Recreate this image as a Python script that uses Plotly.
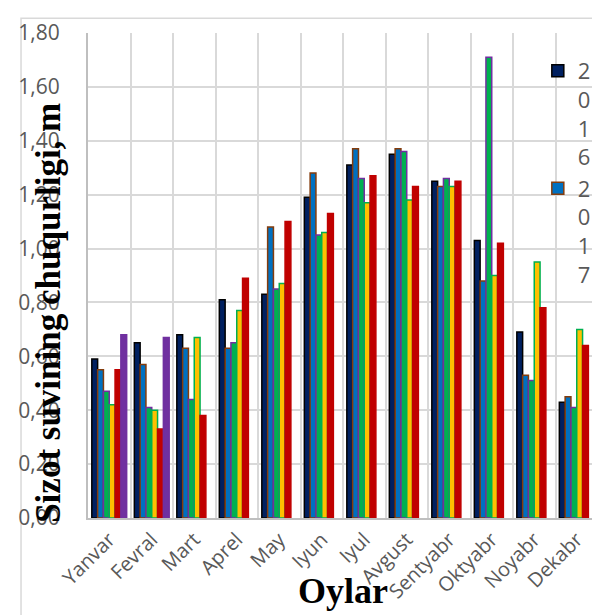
import plotly.graph_objects as go

months = ["Yanvar", "Fevral", "Mart", "Aprel", "May", "Iyun", "Iyul", "Avgust",
          "Sentyabr", "Oktyabr", "Noyabr", "Dekabr"]

s2016 = [0.59, 0.65, 0.68, 0.81, 0.83, 1.19, 1.31, 1.35, 1.25, 1.03, 0.69, 0.43]
s2017 = [0.55, 0.57, 0.63, 0.63, 1.08, 1.28, 1.37, 1.37, 1.23, 0.88, 0.53, 0.45]
s2018 = [0.47, 0.41, 0.44, 0.65, 0.85, 1.05, 1.26, 1.36, 1.26, 1.71, 0.51, 0.41]
s2019 = [0.42, 0.40, 0.67, 0.77, 0.87, 1.06, 1.17, 1.18, 1.23, 0.90, 0.95, 0.70]
s2020 = [0.55, 0.33, 0.38, 0.89, 1.10, 1.13, 1.27, 1.23, 1.25, 1.02, 0.78, 0.64]
s2021 = [0.68, 0.67, None, None, None, None, None, None, None, None, None, None]

series = [
    ("2016", s2016, "#002060", "#000000", True),
    ("2017", s2017, "#0070C0", "#843C0C", True),
    ("2018", s2018, "#00B050", "#7030A0", False),
    ("2019", s2019, "#FFC000", "#00B050", False),
    ("2020", s2020, "#C00000", "#C00000", False),
    ("2021", s2021, "#7030A0", "#7030A0", False),
]

fig = go.Figure()
for name, vals, fill, edge, show in series:
    fig.add_trace(go.Bar(
        x=months, y=vals, name="<br>".join(list(name)),
        marker=dict(color=fill, line=dict(color=edge, width=1.5)),
        showlegend=show,
    ))

fig.update_layout(
    width=600, height=615,
    margin=dict(l=72, r=10, t=20, b=105),
    paper_bgcolor="white", plot_bgcolor="white",
    barmode="group", bargap=0.18, bargroupgap=0,
    separators=", ",
    font=dict(family="Open Sans, Noto Sans, sans-serif", color="#595959"),
    legend=dict(x=0.882, y=0.965, xanchor="left", yanchor="top",
                valign="top", bgcolor="rgba(0,0,0,0)",
                font=dict(size=22, color="#595959"), tracegroupgap=6),
    xaxis=dict(type="category", tickson="boundaries", showgrid=True,
               gridcolor="#d9d9d9", gridwidth=1.5, tickangle=-45,
               ticks="", tickfont=dict(size=20, color="#595959"),
               showline=True, linecolor="#bfbfbf", linewidth=2),
    yaxis=dict(range=[0, 1.8], dtick=0.2, tickformat=".2f", showgrid=True,
               gridcolor="#d9d9d9", gridwidth=1.5, ticks="",
               tickfont=dict(size=21, color="#595959"), ticklabelstandoff=22,
               showline=True, linecolor="#bfbfbf", linewidth=2, zeroline=False),
    shapes=[dict(type="rect", xref="paper", yref="paper",
                 x0=-0.1313, x1=1.2, y0=-0.6, y1=1.0306,
                 line=dict(color="#d9d9d9", width=1.5), layer="below")],
    annotations=[
        dict(text="<b>Sizot suvining chuqurligi, m</b>", xref="paper", yref="paper",
             x=-0.079, y=0.4224, textangle=-90, showarrow=False,
             xanchor="center", yanchor="middle",
             font=dict(family="Liberation Serif, Times New Roman, serif", size=35, color="#000000")),
        dict(text="<b>Oylar</b>", xref="paper", yref="paper",
             x=0.5, y=-0.151, showarrow=False, xanchor="center", yanchor="middle",
             font=dict(family="Liberation Serif, Times New Roman, serif", size=36, color="#000000")),
    ],
)

fig.write_html("out.html")
